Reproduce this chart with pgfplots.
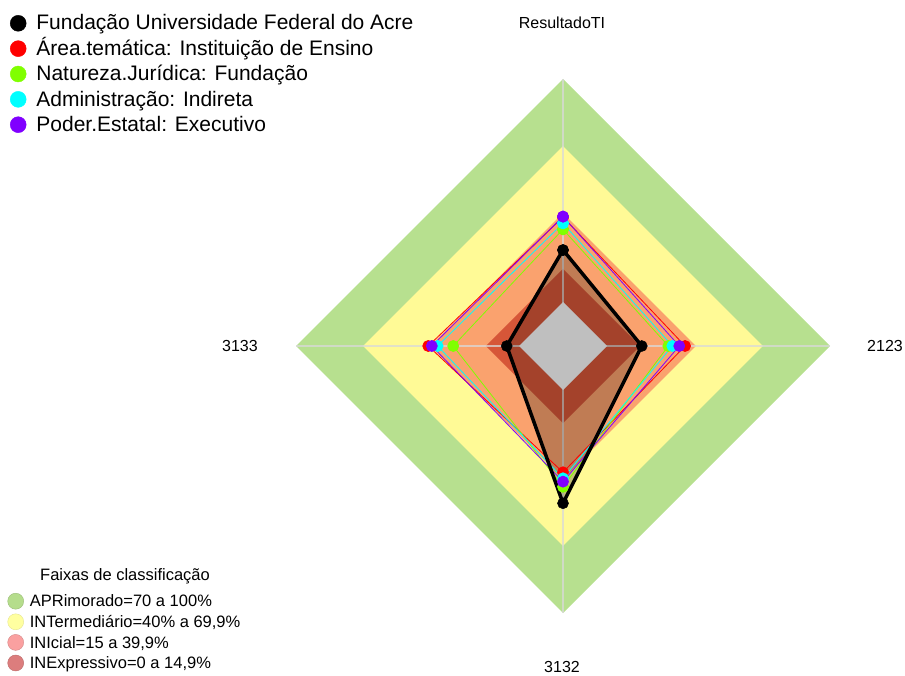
\documentclass[border=0pt]{standalone}
\usepackage{fontspec}
\setmainfont{Liberation Sans}
\usepackage{pgfplots}
\usepackage{pgfplotstable}
\pgfplotsset{compat=1.18}

\definecolor{bandA}{RGB}{183,224,143}
\definecolor{bandB}{RGB}{255,250,150}
\definecolor{bandC}{RGB}{250,162,110}
\definecolor{bandD}{RGB}{214,86,56}
\definecolor{centre}{RGB}{191,191,191}
\definecolor{sred}{RGB}{255,0,0}
\definecolor{sgreen}{RGB}{128,255,0}
\definecolor{scyan}{RGB}{0,255,255}
\definecolor{spurple}{RGB}{128,0,255}
\definecolor{legA}{RGB}{181,221,140}
\definecolor{legB}{RGB}{255,255,160}
\definecolor{legC}{RGB}{250,160,160}
\definecolor{legD}{RGB}{220,125,125}

% a = spoke angle; values in %
\pgfplotstableread{
a   ufac area  nat  adm  poder
90  23.3 38.1 32.6 35.3 38.3
180  5.5 40.7 29.5 36.5 39.1
270 50.8 36.9 43.4 39.6 41.1
0   15.6 35.0 27.5 29.3 32.4
90  23.3 38.1 32.6 35.3 38.3
}\scores

\pgfplotstableread{
a   apr  int  ini  inx  zero
90  100 69.9 39.9 14.9 0
180 100 69.9 39.9 14.9 0
270 100 69.9 39.9 14.9 0
0   100 69.9 39.9 14.9 0
90  100 69.9 39.9 14.9 0
}\bands

% 0% sits 44px from the centre, 100% at 267px
\pgfkeys{/pgfplots/table/rad/.style={
  x expr={(44+2.23*\thisrow{#1})*cos(\thisrow{a})},
  y expr={(44+2.23*\thisrow{#1})*sin(\thisrow{a})}}}

\pgfplotsset{canvas/.style={
  width=905pt, height=675pt, scale only axis,
  xmin=-563, xmax=342, ymin=-329, ymax=346,
  hide axis, clip=false}}

\begin{document}
\begin{tikzpicture}
\begin{axis}[canvas,
  legend cell align=left,
  legend image code/.code={\path (-8pt,0pt) (18pt,0pt); \fill[#1] (0pt,1.45pt) circle (8pt);},
  legend style={draw=none, fill=none, inner sep=0pt, outer sep=0pt,
    at={(axis cs:-553,332)}, anchor=north west,
    font=\fontsize{21}{25}\selectfont, row sep=3.85pt,
    nodes={inner sep=0pt, text height=16pt, text depth=5.5pt}}]
% classification bands
\addplot[forget plot, fill=bandA, draw=none] table[rad=apr] {\bands};
\addplot[forget plot, fill=bandB, draw=none] table[rad=int] {\bands};
\addplot[forget plot, fill=bandC, draw=none] table[rad=ini] {\bands};
\addplot[forget plot, fill=bandD, draw=none] table[rad=inx] {\bands};
% spokes
\addplot[forget plot, color=white!85!black, opacity=0.75, line width=2pt] coordinates {(-267,0) (267,0)};
\addplot[forget plot, color=white!85!black, opacity=0.75, line width=2pt] coordinates {(0,-267) (0,267)};
% shaded area of the institution
\addplot[forget plot, draw=none, fill=black, fill opacity=0.23] table[rad=ufac] {\scores};
\addplot[forget plot, fill=centre, draw=none] table[rad=zero] {\bands};
% series
\addplot[forget plot, sred, line width=0.8pt, mark=*, mark size=5.5pt] table[rad=area] {\scores};
\addplot[forget plot, sgreen, line width=0.8pt, mark=*, mark size=5.5pt] table[rad=nat] {\scores};
\addplot[forget plot, scyan, line width=0.8pt, mark=*, mark size=5.5pt] table[rad=adm] {\scores};
\addplot[forget plot, spurple, line width=0.8pt, mark=*, mark size=5.5pt] table[rad=poder] {\scores};
\addplot[forget plot, black, line width=3.5pt, mark=*, mark size=5.5pt, mark options={line width=0.5pt}] table[rad=ufac] {\scores};

\addlegendimage{black}
\addlegendentry{Fundação Universidade Federal do Acre}
\addlegendimage{sred}
\addlegendentry{Área.temática: Instituição de Ensino}
\addlegendimage{sgreen}
\addlegendentry{Natureza.Jurídica: Fundação}
\addlegendimage{scyan}
\addlegendentry{Administração: Indireta}
\addlegendimage{spurple}
\addlegendentry{Poder.Estatal: Executivo}

\begin{scope}[font=\fontsize{16}{19}\selectfont]
\node[anchor=base] at (axis cs:-1,317) {ResultadoTI};
\node[anchor=base] at (axis cs:-323,-5.7) {3133};
\node[anchor=base] at (axis cs:322,-5.7) {2123};
\node[anchor=base] at (axis cs:-1,-326) {3132};
\end{scope}
\end{axis}

\begin{axis}[canvas,
  legend cell align=left,
  legend image code/.code={\path (-8.5pt,0pt) (14pt,0pt); \filldraw[#1] (0pt,1.7pt) circle (8pt);},
  legend style={draw=none, fill=none, inner sep=0pt, outer sep=0pt,
    at={(axis cs:-556,-247)}, anchor=north west,
    font=\fontsize{16.5}{19}\selectfont, row sep=2.7pt,
    nodes={inner sep=0pt, text height=12pt, text depth=4pt}}]
\addlegendimage{fill=legA, draw=legA!85!black}
\addlegendentry{APRimorado=70 a 100\%}
\addlegendimage{fill=legB, draw=legB!90!black}
\addlegendentry{INTermediário=40\% a 69,9\%}
\addlegendimage{fill=legC, draw=legC!85!black}
\addlegendentry{INIcial=15 a 39,9\%}
\addlegendimage{fill=legD, draw=legD!85!black}
\addlegendentry{INExpressivo=0 a 14,9\%}
\node[anchor=base, font=\fontsize{16.5}{19}\selectfont] at (axis cs:-438,-234.7) {Faixas de classificação};
\end{axis}
\pgfresetboundingbox
\path[use as bounding box] (0,0) rectangle (905pt,675pt);
\end{tikzpicture}
\end{document}
